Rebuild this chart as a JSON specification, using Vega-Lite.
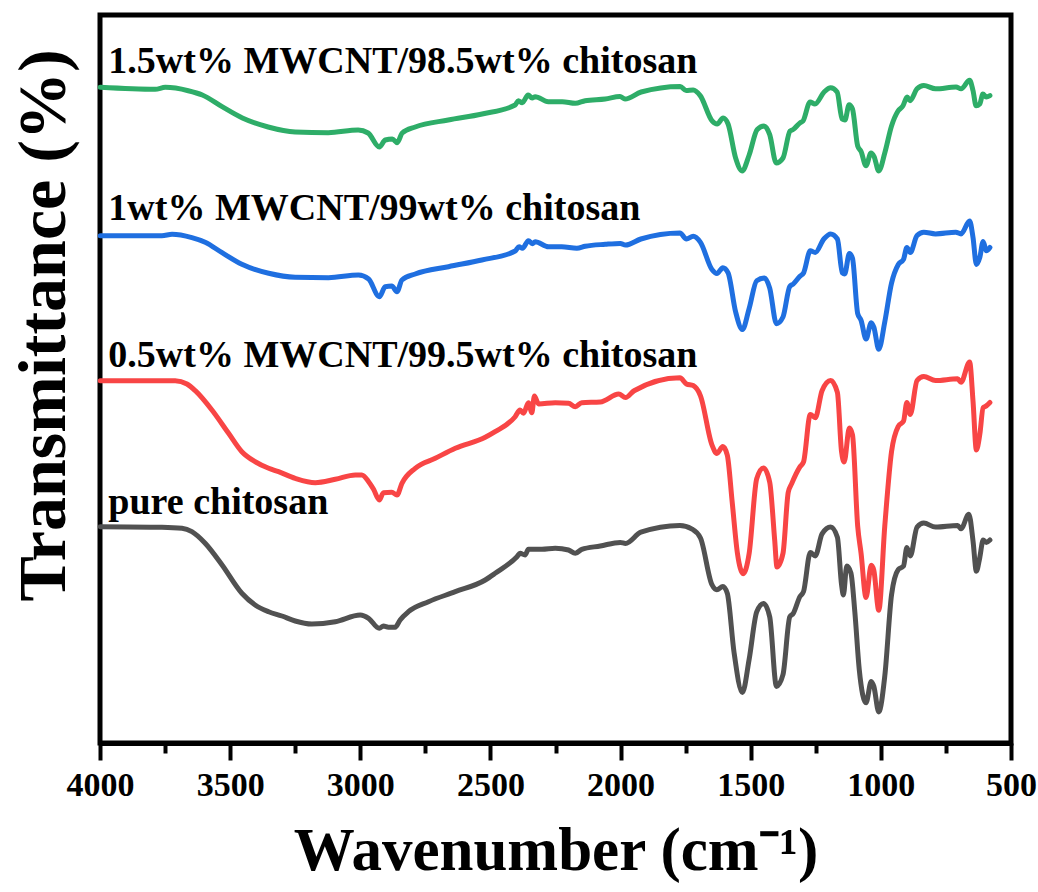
{
  "$schema": "https://vega.github.io/schema/vega-lite/v6.json",
  "autosize": {"type": "none"},
  "width": 911,
  "height": 728,
  "padding": {"left": 100, "top": 15, "right": 27, "bottom": 149},
  "background": "white",
  "config": {
    "view": {"stroke": "#000000", "strokeWidth": 5},
    "font": "Liberation Serif"
  },
  "datasets": {
    "lines": [
      {"s":"pure","w":3999,"v":216.3},{"s":"pure","w":3762,"v":215.7},{"s":"pure","w":3685,"v":214.7},{"s":"pure","w":3647,"v":211.3},{"s":"pure","w":3596,"v":199.7},{"s":"pure","w":3531,"v":178},{"s":"pure","w":3455,"v":149.7},{"s":"pure","w":3404,"v":138},{"s":"pure","w":3352,"v":131.3},{"s":"pure","w":3301,"v":127},{"s":"pure","w":3250,"v":122},{"s":"pure","w":3186,"v":119},{"s":"pure","w":3096,"v":121.3},{"s":"pure","w":3000,"v":128},{"s":"pure","w":2968,"v":124.7},{"s":"pure","w":2927,"v":114.7},{"s":"pure","w":2911,"v":117},{"s":"pure","w":2892,"v":115.7},{"s":"pure","w":2866,"v":115.7},{"s":"pure","w":2847,"v":123},{"s":"pure","w":2815,"v":131.3},{"s":"pure","w":2738,"v":141.3},{"s":"pure","w":2635,"v":151.3},{"s":"pure","w":2520,"v":163},{"s":"pure","w":2482,"v":169.7},{"s":"pure","w":2398,"v":186.3},{"s":"pure","w":2386,"v":189.7},{"s":"pure","w":2367,"v":188},{"s":"pure","w":2354,"v":193.7},{"s":"pure","w":2302,"v":193.7},{"s":"pure","w":2251,"v":194.7},{"s":"pure","w":2200,"v":193},{"s":"pure","w":2174,"v":189.7},{"s":"pure","w":2149,"v":193.7},{"s":"pure","w":2078,"v":197},{"s":"pure","w":2001,"v":200.6},{"s":"pure","w":1981,"v":199.6},{"s":"pure","w":1922,"v":210.8},{"s":"pure","w":1772,"v":217.6},{"s":"pure","w":1727,"v":214.2},{"s":"pure","w":1693,"v":205},{"s":"pure","w":1649,"v":158.3},{"s":"pure","w":1630,"v":153.2},{"s":"pure","w":1607,"v":156.6},{"s":"pure","w":1590,"v":149.8},{"s":"pure","w":1564,"v":90.5},{"s":"pure","w":1532,"v":50.5},{"s":"pure","w":1506,"v":83.7},{"s":"pure","w":1477,"v":131.1},{"s":"pure","w":1451,"v":139.6},{"s":"pure","w":1427,"v":126.1},{"s":"pure","w":1401,"v":56.6},{"s":"pure","w":1376,"v":68.4},{"s":"pure","w":1350,"v":126.1},{"s":"pure","w":1337,"v":129.4},{"s":"pure","w":1311,"v":146.4},{"s":"pure","w":1297,"v":151.5},{"s":"pure","w":1271,"v":190.5},{"s":"pure","w":1252,"v":187.1},{"s":"pure","w":1226,"v":209.1},{"s":"pure","w":1193,"v":215.9},{"s":"pure","w":1167,"v":205.7},{"s":"pure","w":1151,"v":158.3},{"s":"pure","w":1144,"v":148.1},{"s":"pure","w":1131,"v":176.9},{"s":"pure","w":1115,"v":170.1},{"s":"pure","w":1100,"v":131.1},{"s":"pure","w":1083,"v":73.5},{"s":"pure","w":1057,"v":40.3},{"s":"pure","w":1037,"v":61.6},{"s":"pure","w":1027,"v":56.6},{"s":"pure","w":1008,"v":31.1},{"s":"pure","w":985,"v":66.7},{"s":"pure","w":959,"v":148.1},{"s":"pure","w":933,"v":173.5},{"s":"pure","w":913,"v":176.9},{"s":"pure","w":900,"v":195.5},{"s":"pure","w":887,"v":187.1},{"s":"pure","w":861,"v":215.9},{"s":"pure","w":835,"v":219.9},{"s":"pure","w":790,"v":215.9},{"s":"pure","w":705,"v":217.6},{"s":"pure","w":692,"v":214.2},{"s":"pure","w":662,"v":228.8},{"s":"pure","w":646,"v":202.3},{"s":"pure","w":633,"v":171.8},{"s":"pure","w":620,"v":185.4},{"s":"pure","w":607,"v":203},{"s":"pure","w":595,"v":200.6},{"s":"pure","w":581,"v":203},

      {"s":"r05","w":3999,"v":362.3},{"s":"r05","w":3762,"v":362.3},{"s":"r05","w":3711,"v":362.3},{"s":"r05","w":3666,"v":359},{"s":"r05","w":3634,"v":352.3},{"s":"r05","w":3570,"v":333},{"s":"r05","w":3506,"v":309.7},{"s":"r05","w":3455,"v":291.3},{"s":"r05","w":3404,"v":281.3},{"s":"r05","w":3352,"v":274.7},{"s":"r05","w":3314,"v":271.3},{"s":"r05","w":3250,"v":264.7},{"s":"r05","w":3173,"v":260.3},{"s":"r05","w":3096,"v":263.7},{"s":"r05","w":3019,"v":268},{"s":"r05","w":2994,"v":268},{"s":"r05","w":2968,"v":261.3},{"s":"r05","w":2949,"v":253.7},{"s":"r05","w":2927,"v":243},{"s":"r05","w":2911,"v":250.3},{"s":"r05","w":2879,"v":250.7},{"s":"r05","w":2859,"v":248},{"s":"r05","w":2840,"v":259.7},{"s":"r05","w":2789,"v":274.7},{"s":"r05","w":2712,"v":284.7},{"s":"r05","w":2635,"v":294.7},{"s":"r05","w":2520,"v":305.7},{"s":"r05","w":2482,"v":311.3},{"s":"r05","w":2405,"v":326.3},{"s":"r05","w":2386,"v":333},{"s":"r05","w":2373,"v":329.7},{"s":"r05","w":2354,"v":340.3},{"s":"r05","w":2341,"v":330.3},{"s":"r05","w":2331,"v":347},{"s":"r05","w":2315,"v":339},{"s":"r05","w":2251,"v":340.3},{"s":"r05","w":2200,"v":339.7},{"s":"r05","w":2174,"v":336.3},{"s":"r05","w":2149,"v":340.3},{"s":"r05","w":2078,"v":341},{"s":"r05","w":2007,"v":348.9},{"s":"r05","w":1981,"v":345.5},{"s":"r05","w":1948,"v":352.3},{"s":"r05","w":1772,"v":365.2},{"s":"r05","w":1747,"v":359.1},{"s":"r05","w":1721,"v":357.4},{"s":"r05","w":1693,"v":347.2},{"s":"r05","w":1649,"v":298.1},{"s":"r05","w":1630,"v":289.6},{"s":"r05","w":1607,"v":296.4},{"s":"r05","w":1590,"v":287.9},{"s":"r05","w":1571,"v":240.5},{"s":"r05","w":1551,"v":189.6},{"s":"r05","w":1529,"v":169.3},{"s":"r05","w":1506,"v":189.6},{"s":"r05","w":1477,"v":264.2},{"s":"r05","w":1451,"v":275},{"s":"r05","w":1427,"v":260.8},{"s":"r05","w":1408,"v":203.2},{"s":"r05","w":1399,"v":176},{"s":"r05","w":1376,"v":189.6},{"s":"r05","w":1356,"v":250.6},{"s":"r05","w":1343,"v":259.1},{"s":"r05","w":1311,"v":276.1},{"s":"r05","w":1297,"v":281.1},{"s":"r05","w":1271,"v":328.6},{"s":"r05","w":1252,"v":325.2},{"s":"r05","w":1226,"v":352.3},{"s":"r05","w":1193,"v":362.5},{"s":"r05","w":1167,"v":350.6},{"s":"r05","w":1151,"v":291.3},{"s":"r05","w":1141,"v":281.1},{"s":"r05","w":1121,"v":315},{"s":"r05","w":1109,"v":308.3},{"s":"r05","w":1089,"v":216.7},{"s":"r05","w":1076,"v":189.6},{"s":"r05","w":1057,"v":145.5},{"s":"r05","w":1037,"v":177.7},{"s":"r05","w":1027,"v":172.7},{"s":"r05","w":1008,"v":132.8},{"s":"r05","w":985,"v":216.7},{"s":"r05","w":959,"v":291.3},{"s":"r05","w":933,"v":316.7},{"s":"r05","w":913,"v":321.8},{"s":"r05","w":900,"v":340.5},{"s":"r05","w":887,"v":328.6},{"s":"r05","w":861,"v":362.5},{"s":"r05","w":835,"v":366.6},{"s":"r05","w":790,"v":362.5},{"s":"r05","w":705,"v":364.2},{"s":"r05","w":692,"v":360.8},{"s":"r05","w":659,"v":381.1},{"s":"r05","w":646,"v":342.2},{"s":"r05","w":633,"v":293},{"s":"r05","w":620,"v":308.3},{"s":"r05","w":607,"v":335.4},{"s":"r05","w":595,"v":337.1},{"s":"r05","w":581,"v":340.5},

      {"s":"r1","w":3999,"v":507.3},{"s":"r1","w":3762,"v":507.3},{"s":"r1","w":3723,"v":508.7},{"s":"r1","w":3647,"v":505.3},{"s":"r1","w":3596,"v":500.7},{"s":"r1","w":3531,"v":490.3},{"s":"r1","w":3455,"v":478.7},{"s":"r1","w":3352,"v":469.7},{"s":"r1","w":3250,"v":465.7},{"s":"r1","w":3122,"v":465.3},{"s":"r1","w":3007,"v":468},{"s":"r1","w":2968,"v":464},{"s":"r1","w":2927,"v":446.3},{"s":"r1","w":2904,"v":456.3},{"s":"r1","w":2879,"v":457},{"s":"r1","w":2859,"v":451.3},{"s":"r1","w":2840,"v":463},{"s":"r1","w":2789,"v":469},{"s":"r1","w":2661,"v":476.3},{"s":"r1","w":2533,"v":483},{"s":"r1","w":2405,"v":492},{"s":"r1","w":2390,"v":496.3},{"s":"r1","w":2377,"v":494.7},{"s":"r1","w":2354,"v":502.3},{"s":"r1","w":2339,"v":499.3},{"s":"r1","w":2328,"v":501.3},{"s":"r1","w":2277,"v":496.3},{"s":"r1","w":2226,"v":496.3},{"s":"r1","w":2168,"v":494.7},{"s":"r1","w":2136,"v":496.7},{"s":"r1","w":2059,"v":498.7},{"s":"r1","w":2001,"v":499.6},{"s":"r1","w":1981,"v":497.9},{"s":"r1","w":1922,"v":504},{"s":"r1","w":1772,"v":510.1},{"s":"r1","w":1747,"v":504},{"s":"r1","w":1721,"v":506.7},{"s":"r1","w":1693,"v":500.6},{"s":"r1","w":1649,"v":473.5},{"s":"r1","w":1630,"v":469.4},{"s":"r1","w":1607,"v":475.2},{"s":"r1","w":1587,"v":470.1},{"s":"r1","w":1558,"v":431.1},{"s":"r1","w":1532,"v":413.5},{"s":"r1","w":1506,"v":434.5},{"s":"r1","w":1477,"v":462.3},{"s":"r1","w":1447,"v":465},{"s":"r1","w":1427,"v":454.9},{"s":"r1","w":1401,"v":419.3},{"s":"r1","w":1376,"v":426},{"s":"r1","w":1350,"v":456.6},{"s":"r1","w":1337,"v":458.9},{"s":"r1","w":1311,"v":466.7},{"s":"r1","w":1297,"v":470.1},{"s":"r1","w":1271,"v":492.2},{"s":"r1","w":1252,"v":490.5},{"s":"r1","w":1219,"v":504},{"s":"r1","w":1193,"v":509.1},{"s":"r1","w":1167,"v":504},{"s":"r1","w":1148,"v":470.1},{"s":"r1","w":1139,"v":469.1},{"s":"r1","w":1121,"v":489.4},{"s":"r1","w":1109,"v":484.7},{"s":"r1","w":1089,"v":429.4},{"s":"r1","w":1076,"v":422.7},{"s":"r1","w":1057,"v":404},{"s":"r1","w":1037,"v":420.3},{"s":"r1","w":1027,"v":415.9},{"s":"r1","w":1008,"v":393.8},{"s":"r1","w":985,"v":421},{"s":"r1","w":959,"v":459.9},{"s":"r1","w":933,"v":478.6},{"s":"r1","w":913,"v":483.7},{"s":"r1","w":900,"v":495.5},{"s":"r1","w":887,"v":490.5},{"s":"r1","w":861,"v":507.4},{"s":"r1","w":835,"v":510.8},{"s":"r1","w":790,"v":509.1},{"s":"r1","w":712,"v":510.8},{"s":"r1","w":692,"v":509.1},{"s":"r1","w":659,"v":522},{"s":"r1","w":646,"v":505.7},{"s":"r1","w":633,"v":478.6},{"s":"r1","w":620,"v":485.4},{"s":"r1","w":607,"v":501.6},{"s":"r1","w":595,"v":492.2},{"s":"r1","w":581,"v":495.5},

      {"s":"r15","w":3999,"v":655.7},{"s":"r15","w":3788,"v":653.7},{"s":"r15","w":3749,"v":655.7},{"s":"r15","w":3661,"v":652.3},{"s":"r15","w":3607,"v":648},{"s":"r15","w":3531,"v":636.3},{"s":"r15","w":3453,"v":625},{"s":"r15","w":3354,"v":616},{"s":"r15","w":3250,"v":611},{"s":"r15","w":3123,"v":610.3},{"s":"r15","w":3008,"v":613},{"s":"r15","w":2970,"v":610},{"s":"r15","w":2927,"v":596},{"s":"r15","w":2904,"v":603},{"s":"r15","w":2877,"v":604},{"s":"r15","w":2858,"v":600.3},{"s":"r15","w":2839,"v":610},{"s":"r15","w":2789,"v":616},{"s":"r15","w":2662,"v":623},{"s":"r15","w":2532,"v":629},{"s":"r15","w":2405,"v":638},{"s":"r15","w":2393,"v":642.3},{"s":"r15","w":2378,"v":640.3},{"s":"r15","w":2355,"v":648},{"s":"r15","w":2340,"v":645},{"s":"r15","w":2328,"v":646.3},{"s":"r15","w":2278,"v":641.3},{"s":"r15","w":2224,"v":641.3},{"s":"r15","w":2174,"v":639.7},{"s":"r15","w":2136,"v":642.3},{"s":"r15","w":2059,"v":644},{"s":"r15","w":2002,"v":646.4},{"s":"r15","w":1983,"v":644},{"s":"r15","w":1921,"v":651},{"s":"r15","w":1771,"v":656.6},{"s":"r15","w":1748,"v":652.5},{"s":"r15","w":1721,"v":653},{"s":"r15","w":1694,"v":647.4},{"s":"r15","w":1648,"v":622},{"s":"r15","w":1629,"v":619},{"s":"r15","w":1606,"v":625},{"s":"r15","w":1587,"v":619},{"s":"r15","w":1558,"v":585},{"s":"r15","w":1533,"v":572},{"s":"r15","w":1506,"v":588},{"s":"r15","w":1475,"v":613.5},{"s":"r15","w":1449,"v":617},{"s":"r15","w":1427,"v":608.4},{"s":"r15","w":1402,"v":580},{"s":"r15","w":1376,"v":585},{"s":"r15","w":1349,"v":612},{"s":"r15","w":1337,"v":613.5},{"s":"r15","w":1310,"v":620.3},{"s":"r15","w":1299,"v":622},{"s":"r15","w":1272,"v":641},{"s":"r15","w":1253,"v":639},{"s":"r15","w":1218,"v":651},{"s":"r15","w":1193,"v":655.2},{"s":"r15","w":1168,"v":651},{"s":"r15","w":1149,"v":624},{"s":"r15","w":1138,"v":623},{"s":"r15","w":1122,"v":638.3},{"s":"r15","w":1109,"v":634},{"s":"r15","w":1089,"v":597},{"s":"r15","w":1076,"v":591.5},{"s":"r15","w":1057,"v":577.2},{"s":"r15","w":1038,"v":590},{"s":"r15","w":1026,"v":586.4},{"s":"r15","w":1008,"v":572},{"s":"r15","w":985,"v":590},{"s":"r15","w":959,"v":617},{"s":"r15","w":934,"v":632},{"s":"r15","w":915,"v":637.2},{"s":"r15","w":899,"v":646},{"s":"r15","w":888,"v":642.3},{"s":"r15","w":861,"v":654.2},{"s":"r15","w":835,"v":657.6},{"s":"r15","w":790,"v":654.2},{"s":"r15","w":711,"v":656},{"s":"r15","w":692,"v":654.2},{"s":"r15","w":659,"v":662.7},{"s":"r15","w":646,"v":652.5},{"s":"r15","w":634,"v":637.2},{"s":"r15","w":620,"v":639},{"s":"r15","w":608,"v":649},{"s":"r15","w":595,"v":646},{"s":"r15","w":581,"v":647.4}
    ],
    "labels": [
      {"t": "1.5wt% MWCNT/98.5wt% chitosan", "w": 3968, "v": 670},
      {"t": "1wt% MWCNT/99wt% chitosan", "w": 3968, "v": 523},
      {"t": "0.5wt% MWCNT/99.5wt% chitosan", "w": 3968, "v": 376},
      {"t": "pure chitosan", "w": 3968, "v": 229}
    ]
  },
  "layer": [
    {
      "data": {"name": "lines"},
      "mark": {"type": "line", "strokeWidth": 5, "strokeJoin": "round", "strokeCap": "round", "interpolate": "monotone"},
      "encoding": {
        "x": {
          "field": "w", "type": "quantitative",
          "scale": {"domain": [500, 4000], "reverse": true, "nice": false, "zero": false},
          "axis": {
            "title": "Wavenumber (cm⁻¹)",
            "values": [4000, 3750, 3500, 3250, 3000, 2750, 2500, 2250, 2000, 1750, 1500, 1250, 1000, 750, 500],
            "format": "d",
            "labelExpr": "datum.value % 500 === 0 ? datum.label : ''",
            "labelOverlap": false,
            "labelFlush": false,
            "grid": false,
            "domain": true,
            "domainColor": "#000000",
            "domainWidth": 5,
            "tickColor": "#000000",
            "tickWidth": 4,
            "tickSize": {"condition": {"test": "datum.value % 500 === 0", "value": 17}, "value": 10},
            "labelFont": "Liberation Serif",
            "labelFontWeight": "bold",
            "labelFontSize": 34,
            "labelColor": "#000000",
            "labelPadding": 8,
            "titleFont": "Liberation Serif",
            "titleFontWeight": "bold",
            "titleFontSize": 61,
            "titleColor": "#000000",
            "titlePadding": 19
          }
        },
        "y": {
          "field": "v", "type": "quantitative",
          "scale": {"domain": [0, 728], "nice": false, "zero": false},
          "axis": {
            "title": "Transmittance (%)",
            "domain": false, "ticks": false, "labels": false, "grid": false,
            "titleFont": "Liberation Serif",
            "titleFontWeight": "bold",
            "titleFontSize": 68,
            "titleColor": "#000000",
            "titlePadding": 22,
            "titleY": 310
          }
        },
        "color": {
          "field": "s", "type": "nominal",
          "scale": {"domain": ["pure", "r05", "r1", "r15"], "range": ["#515151", "#F84545", "#1F6FE0", "#2EAD68"]},
          "legend": null
        }
      }
    },
    {
      "data": {"name": "labels"},
      "mark": {"type": "text", "align": "left", "baseline": "alphabetic", "font": "Liberation Serif", "fontWeight": "bold", "fontSize": 38, "color": "#000000"},
      "encoding": {
        "x": {"field": "w", "type": "quantitative"},
        "y": {"field": "v", "type": "quantitative"},
        "text": {"field": "t"}
      }
    }
  ]
}
